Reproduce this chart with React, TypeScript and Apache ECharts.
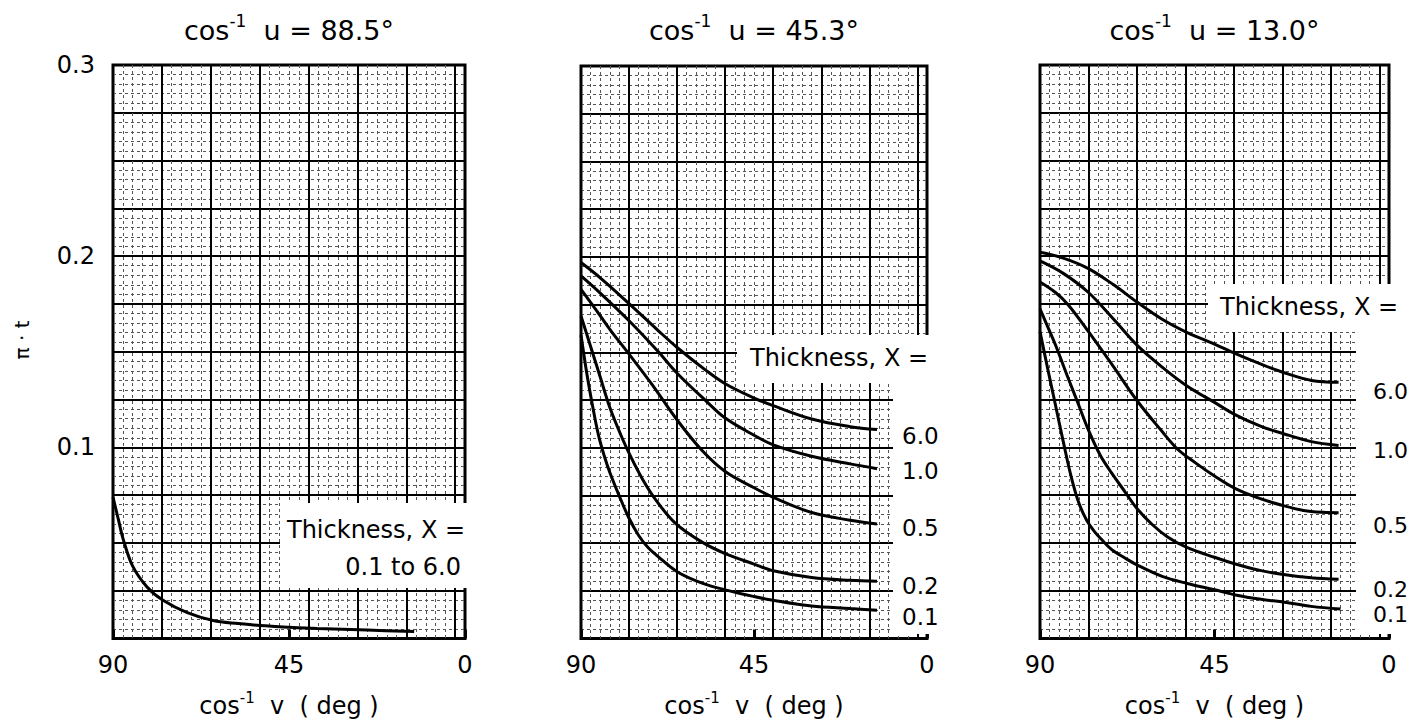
import React, { useEffect, useRef } from "react";
import * as echarts from "echarts";

const FONT = "DejaVu Sans";

// cos^-1 u for each panel
const panelAngles = ["88.5", "45.3", "13.0"];
// x ticks (deg) and y tick labels
const degTicks = [90, 45, 0];
const piTicks = [0.1, 0.2, 0.3];
// thickness labels, top curve to bottom curve
const thicknessLabels = ["6.0", "1.0", "0.5", "0.2", "0.1"];

// Panel 1 (cos^-1 u = 88.5): all thicknesses fall on one curve, [deg, pi*t]
const p1All: number[][] = [
  [90, 0.074], [88.6, 0.062], [87.4, 0.052], [85, 0.038], [81.3, 0.027],
  [77.2, 0.020], [71, 0.0135], [64.4, 0.0094], [58, 0.0078], [52.4, 0.0068],
  [45, 0.0059], [37.8, 0.0052], [25, 0.0044], [13, 0.0036],
];

// Panel 2 (cos^-1 u = 45.3)
const p2X60: number[][] = [
  [90, 0.197], [85, 0.189], [77.5, 0.1755], [70, 0.1615], [65, 0.1525], [57.5, 0.1405],
  [52.5, 0.1335], [45, 0.126], [40, 0.122], [30, 0.115], [20, 0.111], [13, 0.1095],
];
const p2X10: number[][] = [
  [90, 0.19], [85, 0.181], [77.5, 0.1665], [70, 0.1505], [65, 0.139], [57.5, 0.1245],
  [52.5, 0.1155], [45, 0.1065], [40, 0.1015], [30, 0.0955], [20, 0.0915], [13, 0.089],
];
const p2X05: number[][] = [
  [90, 0.183], [86, 0.172], [82.5, 0.162], [77.5, 0.149], [71.5, 0.133], [65, 0.1145],
  [58.5, 0.0985], [52.5, 0.0875], [45, 0.079], [40, 0.074], [30, 0.066], [20, 0.062], [13, 0.06],
];
const p2X02: number[][] = [
  [90, 0.169], [87.5, 0.153], [85, 0.137], [82.5, 0.121], [79.5, 0.106], [77, 0.095],
  [74, 0.0835], [70.5, 0.0725], [65.5, 0.0605], [58.5, 0.0505], [52.5, 0.0445], [45, 0.039],
  [40, 0.0355], [30, 0.032], [20, 0.0305], [13, 0.03],
];
const p2X01: number[][] = [
  [90, 0.159], [88.5, 0.139], [87, 0.122], [85.5, 0.107], [84, 0.096], [82.5, 0.087],
  [80, 0.0745], [77.5, 0.063], [75, 0.054], [72.5, 0.0475], [70, 0.043], [65, 0.035],
  [58.5, 0.029], [52.5, 0.0255], [45, 0.022], [40, 0.02], [30, 0.017], [20, 0.0157], [13, 0.0148],
];

// Panel 3 (cos^-1 u = 13.0)
const p3X60: number[][] = [
  [90, 0.202], [84, 0.199], [77.5, 0.1935], [71, 0.185], [65, 0.176], [58.5, 0.167],
  [52, 0.16], [45, 0.154], [39.6, 0.149], [33, 0.1435], [27, 0.139], [20, 0.135], [13, 0.134],
];
const p3X10: number[][] = [
  [90, 0.1975], [84, 0.191], [77.5, 0.181], [71, 0.167], [65, 0.1535], [58.5, 0.142],
  [52, 0.132], [45, 0.1235], [39.6, 0.117], [33, 0.111], [27, 0.107], [20, 0.103], [13, 0.101],
];
const p3X05: number[][] = [
  [90, 0.1865], [86, 0.181], [82.7, 0.1745], [77.5, 0.1605], [71.5, 0.1435], [65, 0.1245],
  [58.6, 0.1085], [54.5, 0.099], [50, 0.092], [45, 0.085], [39.6, 0.0784], [33, 0.073],
  [27.2, 0.0695], [22, 0.067], [17, 0.066], [13, 0.0658],
];
const p3X02: number[][] = [
  [90, 0.1725], [88, 0.163], [86, 0.1535], [82.7, 0.136], [80, 0.122], [77.5, 0.109],
  [74.5, 0.096], [71.5, 0.0865], [68, 0.0765], [65, 0.068], [61, 0.0595], [57, 0.053],
  [52, 0.0475], [45, 0.0425], [39.6, 0.039], [33, 0.0355], [27.2, 0.0335], [20, 0.0318], [13, 0.031],
];
const p3X01: number[][] = [
  [90, 0.1605], [88, 0.141], [86, 0.122], [84, 0.103], [82, 0.085], [80, 0.071],
  [78, 0.062], [76, 0.056], [74, 0.0515], [71.5, 0.0465], [68, 0.042], [65, 0.0385],
  [58.5, 0.0325], [52, 0.0288], [45, 0.0255], [39.6, 0.0228], [33, 0.0205], [27, 0.019],
  [20, 0.0168], [12.5, 0.0154],
];

const panelCurves = [
  [p1All],
  [p2X60, p2X10, p2X05, p2X02, p2X01],
  [p3X60, p3X10, p3X05, p3X02, p3X01],
];

// plot rectangles in page pixels
const layout = [
  { left: 113, top: 65, width: 352, height: 578 },
  { left: 581, top: 66, width: 346, height: 578 },
  { left: 1040, top: 65, width: 349, height: 578 },
];

const SQUARES_X = 7.2; // 12.5-degree squares across 90 degrees
const MINOR_X = 36;

function supRich(size: number) {
  return {
    a: { fontFamily: FONT, fontSize: size, color: "#000", lineHeight: Math.round(size * 1.3) },
    s: { fontFamily: FONT, fontSize: Math.round(size * 0.62), color: "#000", lineHeight: Math.round(size * 0.7), verticalAlign: "top" },
  };
}

function buildOption() {
  const grid: any[] = [];
  const xAxis: any[] = [];
  const yAxis: any[] = [];
  const series: any[] = [];
  const graphic: any[] = [];
  const minorLine = { color: "#555", width: 1, type: [3, 3] };
  const majorLine = { color: "#000", width: 2 };

  layout.forEach((g, i) => {
    grid.push({ ...g, show: true, borderColor: "#000", borderWidth: 3, backgroundColor: "#fff" });
    // fine graph-paper lines
    xAxis.push({
      gridIndex: i, type: "value", min: 0, max: MINOR_X, interval: 1, position: "top", z: 0,
      axisLine: { show: false }, axisTick: { show: false }, axisLabel: { show: false },
      splitLine: { show: true, lineStyle: minorLine },
    });
    // heavy square lines
    xAxis.push({
      gridIndex: i, type: "value", min: 0, max: SQUARES_X, interval: 1, position: "top", z: 1,
      axisLine: { show: false }, axisTick: { show: false }, axisLabel: { show: false },
      splitLine: { show: true, lineStyle: majorLine },
    });
    // degree axis carrying the data
    xAxis.push({
      gridIndex: i, type: "value", min: 0, max: 90, interval: 45, inverse: true, position: "bottom", z: 2,
      axisLine: { show: false },
      axisTick: { show: true, inside: true, length: 9, lineStyle: { color: "#000", width: 3 } },
      axisLabel: {
        fontFamily: FONT, fontSize: 24, color: "#000", margin: 14,
        formatter: (v: number) => (degTicks.includes(v) ? String(v) : ""),
      },
      splitLine: { show: false },
      name: "{a|cos}{s|-1}{a|  v  ( deg )}",
      nameLocation: "middle",
      nameGap: 52,
      nameTextStyle: { rich: supRich(24) },
    });
    yAxis.push({
      gridIndex: i, type: "value", min: 0, max: 0.3, interval: 0.025,
      axisLine: { show: false }, axisTick: { show: false },
      axisLabel: {
        show: i === 0, fontFamily: FONT, fontSize: 24, color: "#000", margin: 18, showMaxLabel: true,
        formatter: (v: number) => (piTicks.some((t) => Math.abs(t - v) < 1e-9) ? v.toFixed(1) : ""),
      },
      splitLine: { show: true, lineStyle: majorLine },
      minorTick: { show: false, splitNumber: 5 },
      minorSplitLine: { show: true, lineStyle: minorLine },
    });
    panelCurves[i].forEach((data, k) => {
      series.push({
        type: "line", xAxisIndex: i * 3 + 2, yAxisIndex: i, data,
        showSymbol: false, smooth: 0.35,
        lineStyle: { color: "#000", width: 3 }, z: 3,
        name: i === 0 ? "0.1 to 6.0" : thicknessLabels[k],
      });
    });
    graphic.push({
      type: "text", x: g.left + g.width / 2, y: 30, z: 6,
      style: { text: `{a|cos}{s|-1}{a|  u = ${panelAngles[i]}°}`, rich: supRich(27), align: "center", verticalAlign: "middle" },
    });
  });

  const txt = (x: number, y: number, text: string, align = "left", size = 24) => ({
    type: "text", x, y, z: 6,
    style: { text, fontFamily: FONT, fontSize: size, fill: "#000", align, verticalAlign: "middle" },
  });
  const box = (x: number, y: number, width: number, height: number) => ({
    type: "rect", z: 5, shape: { x, y, width, height }, style: { fill: "#fff" },
  });

  // y-axis name
  graphic.push({
    type: "text", x: 22, y: 340, rotation: Math.PI / 2, z: 6,
    style: { text: "π · t", fontFamily: FONT, fontSize: 20, fill: "#000", align: "center", verticalAlign: "middle" },
  });

  // panel 1 annotation
  graphic.push(box(280, 503, 200, 85));
  graphic.push(txt(287, 530, "Thickness, X ="));
  graphic.push(txt(461, 567, "0.1 to 6.0", "right"));

  // panel 2 annotation
  graphic.push(box(737, 335, 225, 48));
  graphic.push(box(893, 382, 70, 252));
  graphic.push(txt(750, 358, "Thickness, X ="));
  [436, 471, 528, 586, 617].forEach((y, k) => graphic.push(txt(902, y, thicknessLabels[k], "left", 23)));

  // panel 3 annotation
  graphic.push(box(1208, 284, 215, 48));
  graphic.push(box(1356, 331, 67, 303));
  graphic.push(txt(1220, 307, "Thickness, X ="));
  [391, 450, 525, 589, 614].forEach((y, k) => graphic.push(txt(1373, y, thicknessLabels[k], "left", 22)));

  return {
    animation: false,
    backgroundColor: "#fff",
    grid, xAxis, yAxis, series, graphic,
  };
}

export default function App() {
  const ref = useRef<HTMLDivElement>(null);
  useEffect(() => {
    if (!ref.current) return;
    const chart = echarts.init(ref.current, undefined, { renderer: "svg" });
    chart.setOption(buildOption() as any);
    return () => chart.dispose();
  }, []);
  return (
    <div
      ref={ref}
      style={{ position: "fixed", left: 0, top: 0, width: 1423, height: 723, background: "#fff" }}
    />
  );
}
